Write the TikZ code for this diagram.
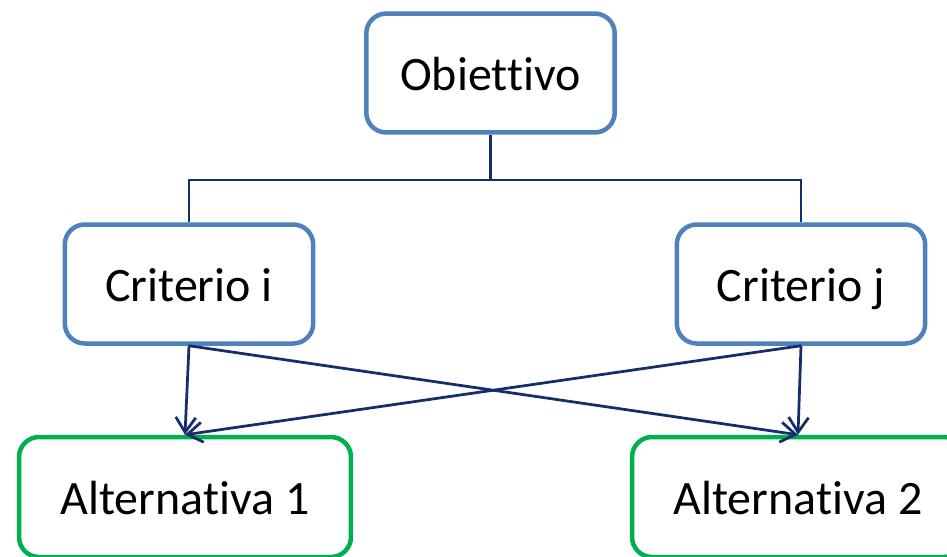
\documentclass[tikz,border=0pt]{standalone}
\usepackage{fontspec}
\setmainfont{Carlito}[Ligatures=NoCommon]
\usetikzlibrary{arrows.meta}
\definecolor{boxblue}{HTML}{4F81BD}
\definecolor{boxgreen}{HTML}{00B050}
\definecolor{wirenavy}{HTML}{172C6A}
\begin{document}
\begin{tikzpicture}[x=0.02cm,y=-0.02cm,
		crit/.style={draw=boxblue,line width=0.09cm,rounded corners=0.4cm,minimum width=4.97cm,minimum height=2.38cm,text height=20.7pt,text depth=0.5pt,font=\fontsize{27.3}{32}\selectfont},
		alt/.style={crit,draw=boxgreen,minimum width=6.64cm,minimum height=2.4cm},
		wire/.style={draw=wirenavy,line width=0.055cm},
		arrowwire/.style={wire,-{Straight Barb[length=0.3cm,width=0.4cm]}}]
		\path[use as bounding box,clip](0,0)rectangle(947,556);
		\node[crit](obj)at(490.5,73){Obiettivo};
		\node[crit](ci)at(189,284){Criterio i};
		\node[crit](cj)at(801,284){Criterio j};
		\node[alt](a1)at(185,497){Alternativa 1};
		\node[alt](a2)at(798,497){Alternativa 2};
		\coordinate(fork)at(490.5,180);
		\draw[wire](obj)--(fork) (ci.north)|-(fork)-|(cj.north);
		\draw[arrowwire](ci.south)--(a1.north);
		\draw[arrowwire](ci.south)--(a2.north);
		\draw[arrowwire](cj.south)--(a2.north);
		\draw[arrowwire](cj.south)--(a1.north);
	\end{tikzpicture}
\end{document}
